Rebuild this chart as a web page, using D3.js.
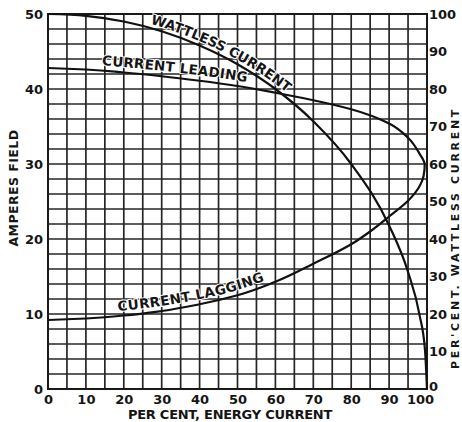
<!DOCTYPE html>
<html><head><meta charset="utf-8">
<script src="https://cdn.jsdelivr.net/npm/d3@7"></script>
<style>
html,body{margin:0;padding:0;background:#fff;}
svg{display:block;}
text{font-family:"DejaVu Sans","Liberation Sans",sans-serif;font-weight:bold;fill:#151515;}
</style></head><body>
<svg id="chart" width="462" height="422"></svg>
<script>
// Wattless current (per cent) against per cent energy current
const wattlessEnergy = [0, 10, 20, 30, 40, 50, 60, 70, 80, 90, 95, 98, 99.5, 100];
const wattlessPct    = [100, 99.5, 98, 95.4, 91.6, 86.6, 80, 71.4, 60, 43.6, 31.2, 19.9, 10, 0];

// Field amperes with the current leading (upper branch)
const leadingEnergy = [0, 10, 20, 30, 40, 50, 60, 70, 80, 90, 95, 98, 99.4];
const leadingAmps   = [42.8, 42.6, 42.2, 41.7, 41.1, 40.4, 39.5, 38.5, 37.3, 35.4, 33.5, 31.4, 29.9];

// Field amperes with the current lagging (lower branch)
const laggingEnergy = [0, 10, 20, 30, 40, 50, 60, 70, 80, 85, 90, 95, 98, 99.1];
const laggingAmps   = [9.2, 9.4, 9.8, 10.4, 11.3, 12.5, 14.3, 16.7, 19.3, 21.0, 23.0, 25.1, 27.0, 28.4];

const energyTicks = [0, 10, 20, 30, 40, 50, 60, 70, 80, 90, 100];
const ampTicks = [0, 10, 20, 30, 40, 50];
const pctTicks = [0, 10, 20, 30, 40, 50, 60, 70, 80, 90, 100];

const svg = d3.select("#chart");
const plotLeft = 48, plotRight = 427, plotTop = 14, plotBottom = 389;

const x = d3.scaleLinear().domain([0, 100]).range([plotLeft, plotRight]);
const yAmp = d3.scaleLinear().domain([0, 50]).range([plotBottom, plotTop]);
const yPct = d3.scaleLinear().domain([0, 100]).range([plotBottom, plotTop]);

// Square ruling: 5 % across, 2.5 A up
const grid = svg.append("g").attr("stroke", "#262626").attr("stroke-width", 1.7);
grid.selectAll("line.v").data(x.ticks(20)).join("line")
  .attr("x1", d => x(d)).attr("x2", d => x(d)).attr("y1", plotTop).attr("y2", plotBottom);
grid.selectAll("line.h").data(yAmp.ticks(20)).join("line")
  .attr("x1", plotLeft).attr("x2", plotRight).attr("y1", d => yAmp(d)).attr("y2", d => yAmp(d));
svg.append("rect").attr("x", plotLeft).attr("y", plotTop)
  .attr("width", plotRight - plotLeft).attr("height", plotBottom - plotTop)
  .attr("fill", "none").attr("stroke", "#1a1a1a").attr("stroke-width", 2);

// Axes
function styleAxis(g) {
  g.select(".domain").remove();
  g.selectAll("text").attr("font-size", 13).attr("font-family", "'DejaVu Sans Condensed','DejaVu Sans',sans-serif")
    .attr("font-weight", "bold").attr("fill", "#151515");
}
svg.append("g").attr("transform", `translate(0,${plotBottom})`)
  .call(d3.axisBottom(x).tickValues(energyTicks).tickSize(0).tickPadding(6).tickFormat(d3.format("d")))
  .call(styleAxis)
  .call(g => g.selectAll(".tick").filter(d => d === 100).select("text").attr("dx", -7));
svg.append("g").attr("transform", `translate(${plotLeft},0)`)
  .call(d3.axisLeft(yAmp).tickValues(ampTicks).tickSize(0).tickPadding(5).tickFormat(d3.format("d")))
  .call(styleAxis);
svg.append("g").attr("transform", `translate(${plotRight},0)`)
  .call(d3.axisRight(yPct).tickValues(pctTicks).tickSize(0).tickPadding(2).tickFormat(d3.format("d")))
  .call(styleAxis)
  .call(g => g.selectAll(".tick").filter(d => d === 0).select("text").attr("dy", "0.1em"));

// Curves
const wattlessPts = wattlessEnergy.map((e, i) => [x(e), yPct(wattlessPct[i])]);
const leadingPts = leadingEnergy.map((e, i) => [x(e), yAmp(leadingAmps[i])]);
const laggingPts = laggingEnergy.map((e, i) => [x(e), yAmp(laggingAmps[i])]);

// The field curve is single-valued in amperes, so trace it upward from the
// lagging end, round the tip, and back along the leading branch.
const fieldLoop = laggingPts.concat(leadingPts.slice().reverse());

const smoothX = d3.line().curve(d3.curveMonotoneX);
const smoothY = d3.line().curve(d3.curveMonotoneY);

const curves = svg.append("g").attr("fill", "none").attr("stroke", "#111").attr("stroke-width", 2.2);
curves.append("path").attr("id", "wattless").attr("d", smoothX(wattlessPts));
curves.append("path").attr("d", smoothY(fieldLoop));

const defs = svg.append("defs");
defs.append("path").attr("id", "leadingPath").attr("d", smoothX(leadingPts));
defs.append("path").attr("id", "laggingPath").attr("d", smoothX(laggingPts));

// A copy of a curve pushed up along its normal, for lettering to sit on
function liftedPath(id, lift, newId) {
  const node = document.getElementById(id);
  const total = node.getTotalLength();
  const pts = d3.range(0, total, 2).map(l => {
    const a = node.getPointAtLength(Math.max(0, l - 1));
    const b = node.getPointAtLength(Math.min(total, l + 1));
    const p = node.getPointAtLength(l);
    const tx = b.x - a.x, ty = b.y - a.y, m = Math.hypot(tx, ty) || 1;
    return [p.x + (ty / m) * lift, p.y - (tx / m) * lift];
  });
  defs.append("path").attr("id", newId).attr("d", d3.line()(pts));
  return newId;
}

// Arc length along a path where it first reaches a given x
function offsetAtX(id, px) {
  const node = document.getElementById(id);
  const total = node.getTotalLength();
  let lo = 0, hi = total;
  for (let k = 0; k < 40; k++) {
    const mid = (lo + hi) / 2;
    if (node.getPointAtLength(mid).x < px) lo = mid; else hi = mid;
  }
  return lo;
}

function fitSpacing(textSel, target) {
  const node = textSel.node();
  const n = textSel.text().length;
  const len = node.getComputedTextLength();
  textSel.attr("letter-spacing", (target - len) / n);
}

function curveLabel(id, label, fromE, toE, lift) {
  const pid = liftedPath(id, lift, id + "Text");
  const start = offsetAtX(pid, x(fromE));
  const end = offsetAtX(pid, x(toE));
  const t = svg.append("text").attr("font-size", 13.5)
    .attr("stroke", "#fff").attr("stroke-width", 2).attr("paint-order", "stroke");
  t.append("textPath").attr("href", "#" + pid).attr("startOffset", start).text(label);
  fitSpacing(t, end - start);
}
curveLabel("wattless", "WATTLESS CURRENT", 27, 63, 4);
curveLabel("leadingPath", "CURRENT LEADING", 14.2, 52.5, 5.5);
curveLabel("laggingPath", "CURRENT LAGGING", 18.5, 57.3, 5);

// Axis titles
const xTitle = svg.append("text").attr("x", 230).attr("y", 419).attr("text-anchor", "middle")
  .attr("font-size", 13).text("PER CENT, ENERGY CURRENT");
fitSpacing(xTitle, 204);
const yTitle = svg.append("text").attr("transform", "translate(18,188) rotate(-90)")
  .attr("text-anchor", "middle").attr("font-size", 12.5).text("AMPERES FIELD");
fitSpacing(yTitle, 117);
const y2Title = svg.append("text").attr("transform", "translate(459,238) rotate(-90)")
  .attr("text-anchor", "middle").attr("font-size", 11).text("PER'CENT. WATTLESS CURRENT");
fitSpacing(y2Title, 262);
</script>
</body></html>
